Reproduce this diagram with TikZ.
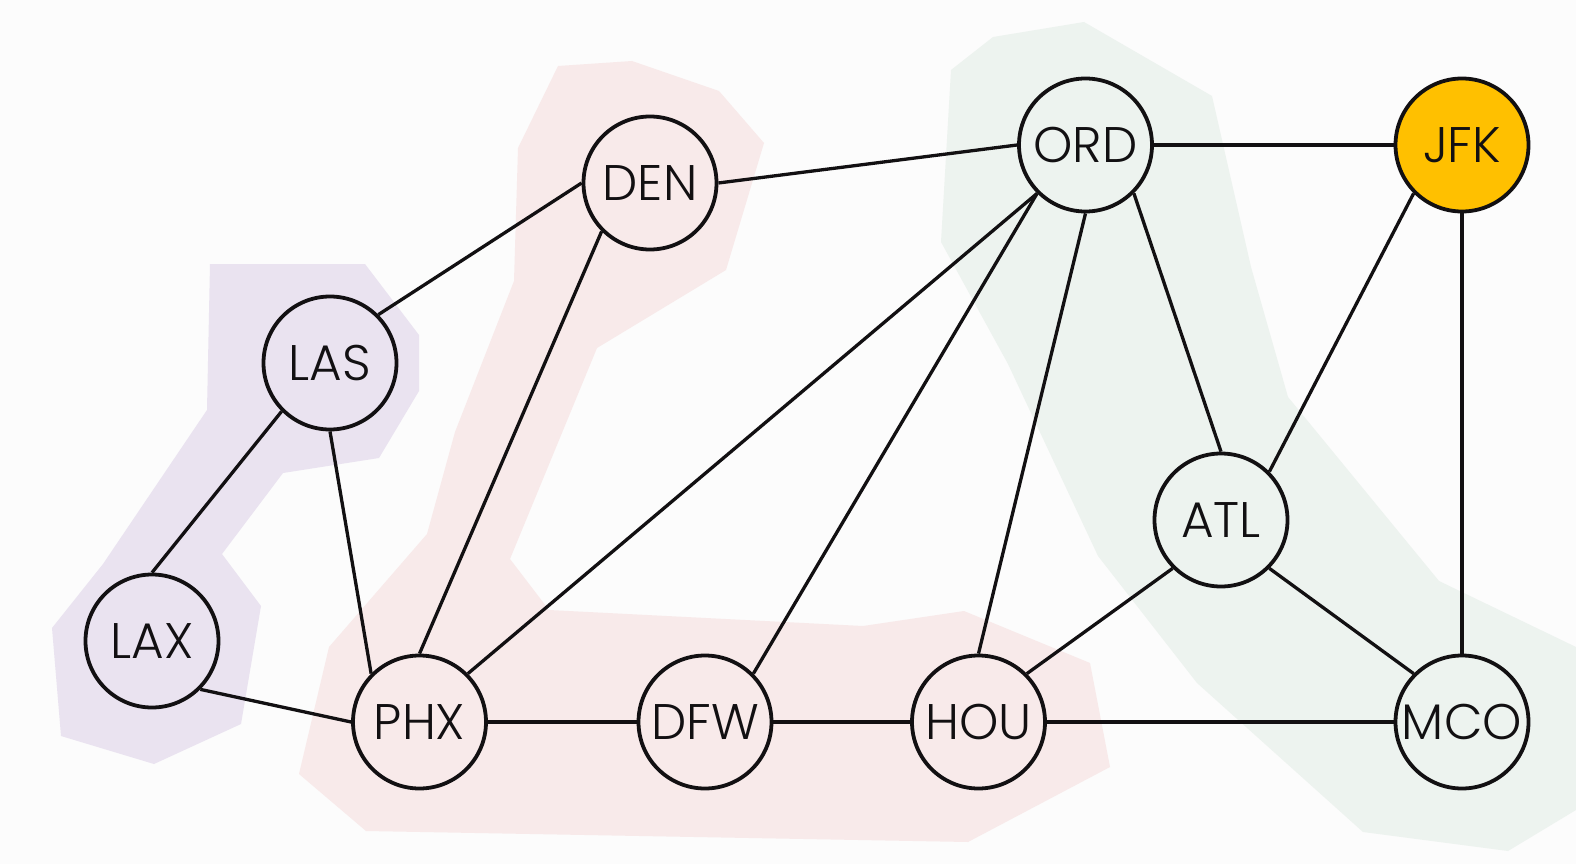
\documentclass[tikz,border=0pt]{standalone}
\usepackage{fontspec}
\IfFontExistsTF{Poppins Light}{\setmainfont{Poppins Light}}{\setmainfont{Poppins}}
\definecolor{bgc}{HTML}{FCFCFC}
\definecolor{purp}{HTML}{EAE3F0}
\definecolor{pinkc}{HTML}{F8EAEA}
\definecolor{greenc}{HTML}{EDF3EF}
\definecolor{jfkc}{HTML}{FFC000}
\definecolor{ink}{HTML}{121012}
\tikzset{
  apt/.style={circle, draw=ink, line width=3.8pt, minimum size=133pt, inner sep=0pt,
    text=ink, font=\fontsize{50}{54}\selectfont},
  route/.style={line width=3.3pt, draw=ink},
}
\begin{document}
\begin{tikzpicture}[x=1pt,y=-1pt]
\fill[bgc] (0,0) rectangle (1576,864);
\useasboundingbox (0,0) rectangle (1576,864);
% clusters
\fill[purp] (210,264) -- (365,264) -- (419,335) -- (419,391) -- (379,458) -- (283,473)
  -- (222,554) -- (261,606) -- (241,724) -- (154,764) -- (61,736) -- (52,628)
  -- (103,564) -- (207,410) -- cycle;
\fill[pinkc] (558,66) -- (632,61) -- (719,91) -- (764,143) -- (726,270) -- (597,348)
  -- (510,559) -- (549,610) -- (863,626) -- (964,611) -- (1090,663) -- (1110,767)
  -- (968,842) -- (366,831) -- (299,774) -- (329,647) -- (427,534) -- (455,432)
  -- (514,281) -- (518,148) -- cycle;
\fill[greenc] (951,70) -- (993,37) -- (1084,22) -- (1212,96) -- (1251,267) -- (1288,397)
  -- (1439,581) -- (1576,647) -- (1576,810) -- (1508,851) -- (1363,832) -- (1197,683)
  -- (1098,556) -- (1008,364) -- (941,242) -- cycle;
% airports
\node[apt] (DEN) at (650,183) {DEN};
\node[apt] (ORD) at (1085.5,145) {ORD};
\node[apt, fill=jfkc] (JFK) at (1462,145) {JFK};
\node[apt] (LAS) at (330,363) {LAS};
\node[apt] (LAX) at (152,641) {LAX};
\node[apt] (PHX) at (419.5,722) {PHX};
\node[apt] (DFW) at (705,722) {DFW};
\node[apt] (HOU) at (978.5,722) {HOU};
\node[apt] (ATL) at (1221,520) {ATL};
\node[apt] (MCO) at (1462,722) {MCO};
% routes
\draw[route] (DEN.west) -- (LAS.north east);
\draw[route] (DEN.east) -- (ORD.west);
\draw[route] (DEN.south west) -- (PHX.north);
\draw[route] (LAS.south west) -- (LAX.north);
\draw[route] (LAS.south) -- (PHX.north west);
\draw[route] (LAX.south east) -- (PHX.west);
\draw[route] (PHX.east) -- (DFW.west);
\draw[route] (PHX.north east) -- (ORD.south west);
\draw[route] (DFW.north east) -- (ORD.south west);
\draw[route] (DFW.east) -- (HOU.west);
\draw[route] (HOU.north) -- (ORD.south);
\draw[route] (HOU.north east) -- (ATL.south west);
\draw[route] (HOU.east) -- (MCO.west);
\draw[route] (ORD.east) -- (JFK.west);
\draw[route] (ORD.south east) -- (ATL.north);
\draw[route] (JFK.south west) -- (ATL.north east);
\draw[route] (JFK.south) -- (MCO.north);
\draw[route] (ATL.south east) -- (MCO.north west);
\end{tikzpicture}
\end{document}
